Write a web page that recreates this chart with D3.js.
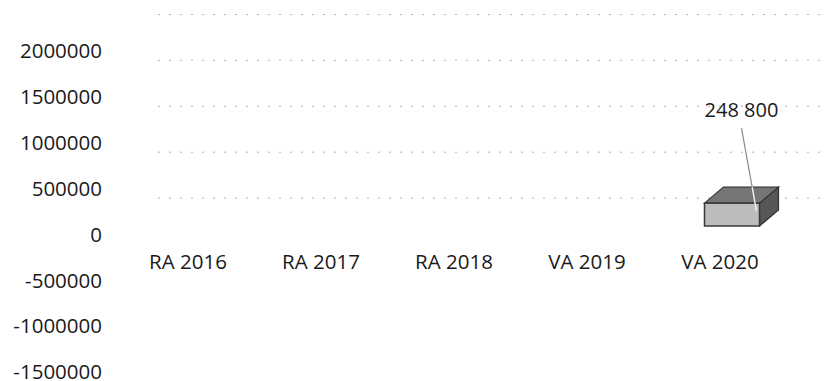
<!DOCTYPE html>
<html>
<head>
<meta charset="utf-8">
<script src="https://cdn.jsdelivr.net/npm/d3@7"></script>
<style>
  html, body { margin: 0; padding: 0; background: #fff; }
  svg { display: block; }
  text { font-family: "Open Sans", "Noto Sans", sans-serif; fill: #1a1a1a; }
</style>
</head>
<body>
<svg id="chart" width="827" height="381"></svg>
<script>
// ---- data ----
const categories = ["RA 2016", "RA 2017", "RA 2018", "VA 2019", "VA 2020"];
const values = [null, null, null, null, 248800];
const yTickLabels = [-1500000, -1000000, -500000, 0, 500000, 1000000, 1500000, 2000000];
const gridValues = [500000, 1000000, 1500000, 2000000, 2500000];

// ---- layout ----
const W = 827, H = 381;
const svg = d3.select("#chart");

const x = d3.scaleBand().domain(categories).range([121.5, 786.5]).padding(0);
// axis-label plane
const y = d3.scaleLinear().domain([0, 500000]).range([234, 188.1]);
const frontOffset = -8;   // front plane of the 3D floor
const backOffset = 10;    // back wall gridlines
const depthX = 19, depthY = -16;
const barW = 55, barShift = 12;

const fmt = d3.formatLocale({ decimal: ",", thousands: " ", grouping: [3], currency: ["", ""] }).format(",d");

// gridlines on the back wall (faint, dotted like the scan)
svg.append("g").selectAll("line").data(gridValues).join("line")
  .attr("x1", 158).attr("x2", W)
  .attr("y1", d => y(d) + backOffset).attr("y2", d => y(d) + backOffset)
  .attr("stroke", "#9a9a9a").attr("stroke-width", 1)
  .attr("stroke-dasharray", "2,9").attr("opacity", 0.75);

// y axis labels (plain hyphen minus, as in the reference)
const yAxis = d3.axisLeft(y).tickValues(yTickLabels).tickFormat(d => String(d)).tickSize(0).tickPadding(0);
const gy = svg.append("g").attr("transform", "translate(102,0)").call(yAxis);
gy.select(".domain").remove();
gy.selectAll("text")
  .style("font-family", '"Open Sans", "Noto Sans", sans-serif')
  .style("font-size", "20.5px").attr("fill", "#1a1a1a").attr("dy", "0.35em");

// category labels
const xAxis = d3.axisBottom(x).tickSize(0).tickPadding(0);
const gx = svg.append("g").attr("transform", "translate(0,262)").call(xAxis);
gx.select(".domain").remove();
gx.selectAll("text")
  .style("font-family", '"Open Sans", "Noto Sans", sans-serif')
  .style("font-size", "20.5px").attr("fill", "#1a1a1a").attr("dy", "0.35em");

// 3D bars
const bars = categories.map((c, i) => ({ c, v: values[i] })).filter(d => d.v != null);
const bg = svg.append("g");
bars.forEach(d => {
  const x0 = x(d.c) + x.bandwidth() / 2 + barShift - barW / 2;
  const x1 = x0 + barW;
  const yb = y(0) + frontOffset;
  const yt = y(d.v) + frontOffset;
  // side face
  bg.append("path")
    .attr("d", `M${x1},${yt} L${x1 + depthX},${yt + depthY} L${x1 + depthX},${yb + depthY} L${x1},${yb} Z`)
    .attr("fill", "#575757").attr("stroke", "#333").attr("stroke-width", 1.2);
  // top face
  bg.append("path")
    .attr("d", `M${x0},${yt} L${x0 + depthX},${yt + depthY} L${x1 + depthX},${yt + depthY} L${x1},${yt} Z`)
    .attr("fill", "#767676").attr("stroke", "#333").attr("stroke-width", 1.2);
  // front face
  bg.append("rect")
    .attr("x", x0).attr("y", yt).attr("width", barW).attr("height", yb - yt)
    .attr("fill", "#bcbcbc").attr("stroke", "#3a3a3a").attr("stroke-width", 1.5);

  // data label with leader line
  const lx = x0 + 37, ly = y(d.v) - 101;
  const ax = x1 - 3, ay = yt + 8;
  const topY = yt + depthY;
  const tFrac = (topY - ly - 18) / (ay - ly - 18);
  const mx = lx + (ax - lx) * tFrac, my = topY;
  bg.append("line").attr("x1", lx).attr("y1", ly + 18).attr("x2", mx).attr("y2", my)
    .attr("stroke", "#8a8a8a").attr("stroke-width", 1.2);
  bg.append("line").attr("x1", mx).attr("y1", my).attr("x2", ax).attr("y2", ay)
    .attr("stroke", "#f4f4f4").attr("stroke-width", 1.4);
  bg.append("text").attr("x", lx).attr("y", ly).attr("text-anchor", "middle")
    .attr("dy", "0.35em").style("font-size", "20px").text(fmt(d.v));
});
</script>
</body>
</html>
